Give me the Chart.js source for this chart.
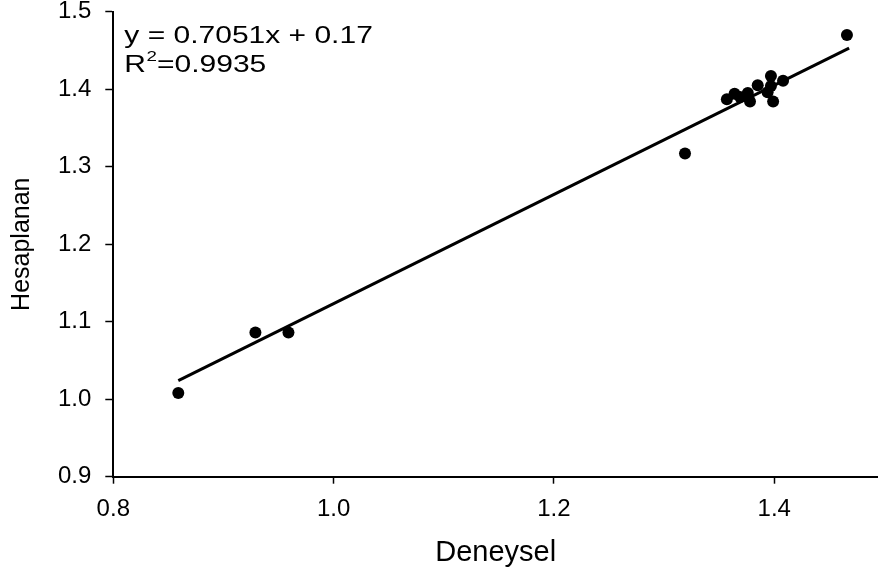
<!DOCTYPE html>
<html>
<head>
<meta charset="utf-8">
<script src="https://cdn.jsdelivr.net/npm/chart.js@4.4.1/dist/chart.umd.min.js"></script>
<style>
  html, body { margin: 0; padding: 0; background: #fff; }
  #wrap { width: 878px; height: 570px; }
</style>
</head>
<body>
<div id="wrap"><canvas id="c" width="878" height="570"></canvas></div>
<script>
// Measured (Deneysel) vs computed (Hesaplanan) values
const deneysel   = [0.859, 0.929, 0.959, 1.319, 1.357, 1.364, 1.369, 1.376, 1.378, 1.385, 1.397, 1.397, 1.394, 1.399, 1.408, 1.466];
const hesaplanan = [1.008, 1.086, 1.086, 1.317, 1.387, 1.394, 1.390, 1.395, 1.384, 1.405, 1.417, 1.404, 1.396, 1.384, 1.411, 1.470];

// End points of the fitted line
const fitX = [0.859, 1.468];
const fitY = [1.024, 1.453];

// Axis ticks
const xTicks = [0.8, 1.0, 1.2, 1.4];
const yTicks = [0.9, 1.0, 1.1, 1.2, 1.3, 1.4, 1.5];

// Text
const xTitle = 'Deneysel';
const yTitle = 'Hesaplanan';
const eqLine = 'y = 0.7051x + 0.17';
const r2Value = '0.9935';

const FONT = '"Liberation Sans", Arial, Helvetica, sans-serif';

const points = deneysel.map((x, i) => ({ x, y: hesaplanan[i] }));
const fitLine = fitX.map((x, i) => ({ x, y: fitY[i] }));

// Regression equation and R² drawn in the upper-left corner of the plot
const equationLabel = {
  id: 'equationLabel',
  afterDraw(chart) {
    const ctx = chart.ctx;
    const x0 = chart.chartArea.left + 11;
    const y0 = chart.chartArea.top;
    const sx = 1.25;
    ctx.save();
    ctx.fillStyle = '#000';
    ctx.textBaseline = 'alphabetic';
    ctx.textAlign = 'left';
    ctx.translate(x0, y0);
    ctx.scale(sx, 1);
    ctx.font = `24px ${FONT}`;
    ctx.fillText(eqLine, 0, 31);
    ctx.fillText('R', 0, 60);
    let w = ctx.measureText('R').width;
    ctx.font = `15px ${FONT}`;
    ctx.fillText('2', w + 0.5, 49);
    w += ctx.measureText('2').width + 0.5;
    ctx.font = `24px ${FONT}`;
    ctx.fillText('=' + r2Value, w, 60);
    ctx.restore();
  }
};

new Chart(document.getElementById('c'), {
  type: 'scatter',
  data: {
    datasets: [
      {
        label: 'fit',
        type: 'line',
        data: fitLine,
        borderColor: '#000',
        borderWidth: 3,
        pointRadius: 0,
        fill: false,
        order: 2
      },
      {
        label: 'data',
        data: points,
        backgroundColor: '#000',
        borderWidth: 0,
        pointRadius: 6,
        order: 1
      }
    ]
  },
  options: {
    responsive: false,
    animation: false,
    devicePixelRatio: 1,
    layout: { autoPadding: false, padding: { top: 11.7, right: 0, bottom: 0, left: 0 } },
    plugins: { legend: { display: false }, tooltip: { enabled: false } },
    scales: {
      x: {
        type: 'linear',
        min: 0.8,
        max: 1.4942,
        afterFit(scale) {
          scale.height = 93.3;
          scale.paddingLeft = 0;
          scale.paddingRight = 0;
        },
        afterBuildTicks(scale) { scale.ticks = xTicks.map(v => ({ value: v })); },
        ticks: {
          includeBounds: false,
          color: '#000',
          padding: 14,
          font: { family: FONT, size: 24, lineHeight: 1 },
          callback: v => Number(v).toFixed(1)
        },
        grid: { display: true, drawOnChartArea: false, drawTicks: true, tickLength: 7, tickColor: '#000', tickWidth: 1.5 },
        border: { display: true, color: '#000', width: 2 },
        title: { display: true, text: xTitle, color: '#000', font: { family: FONT, size: 29, lineHeight: 1.2 }, padding: { top: 0, bottom: 0 } }
      },
      y: {
        type: 'linear',
        min: 0.9,
        max: 1.5,
        afterFit(scale) {
          scale.width = 113.3;
          scale.paddingTop = 0;
          scale.paddingBottom = 0;
        },
        afterBuildTicks(scale) { scale.ticks = yTicks.map(v => ({ value: v })); },
        ticks: {
          color: '#000',
          padding: 14,
          font: { family: FONT, size: 24, lineHeight: 1 },
          callback: v => Number(v).toFixed(1)
        },
        grid: { display: true, drawOnChartArea: false, drawTicks: true, tickLength: 8, tickColor: '#000', tickWidth: 1.5 },
        border: { display: true, color: '#000', width: 2 },
        title: { display: true, text: yTitle, color: '#000', font: { family: FONT, size: 25, lineHeight: 1.2 }, padding: { top: 7, bottom: 0 } }
      }
    }
  },
  plugins: [equationLabel]
});
</script>
</body>
</html>
